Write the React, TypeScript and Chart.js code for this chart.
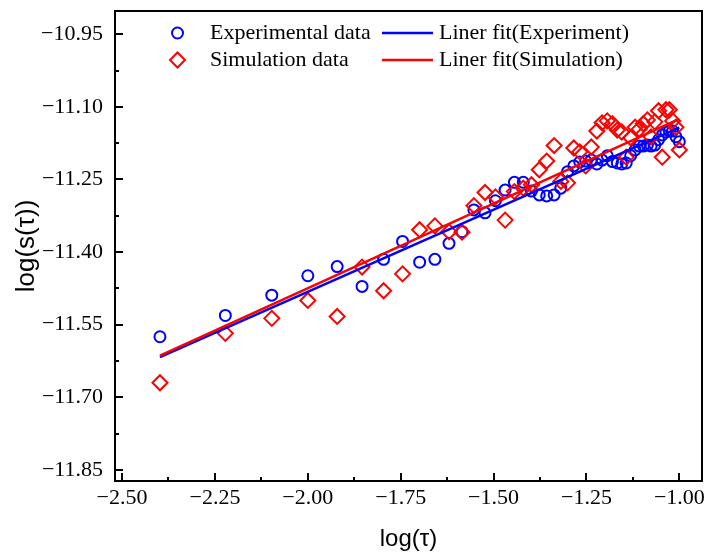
import React, { useEffect, useRef } from 'react';
import { Chart, registerables } from 'chart.js';

Chart.register(...registerables);

// log(tau) values shared by both series
const logTau = [
  -2.398, -2.222, -2.097, -2.0, -1.921, -1.854, -1.796, -1.745, -1.699, -1.658,
  -1.62, -1.585, -1.553, -1.523, -1.495, -1.469, -1.444, -1.42, -1.398, -1.377,
  -1.357, -1.337, -1.319, -1.301, -1.284, -1.268, -1.252, -1.237, -1.222, -1.208,
  -1.194, -1.18, -1.167, -1.155, -1.143, -1.131, -1.119, -1.108, -1.097, -1.086,
  -1.076, -1.066, -1.056, -1.046, -1.036, -1.027, -1.018, -1.009, -1.0,
];

const experimentalY = [
  -11.575, -11.531, -11.489, -11.449, -11.43, -11.471, -11.415, -11.378, -11.421, -11.415,
  -11.382, -11.358, -11.313, -11.319, -11.294, -11.272, -11.256, -11.256, -11.274, -11.282,
  -11.284, -11.282, -11.268, -11.234, -11.222, -11.214, -11.212, -11.21, -11.218, -11.21,
  -11.201, -11.213, -11.216, -11.218, -11.216, -11.201, -11.189, -11.181, -11.181, -11.179,
  -11.181, -11.179, -11.168, -11.158, -11.152, -11.15, -11.15, -11.162, -11.172,
];

const simulationY = [
  -11.67, -11.568, -11.537, -11.5, -11.533, -11.431, -11.48, -11.445, -11.354, -11.346,
  -11.358, -11.359, -11.304, -11.277, -11.286, -11.334, -11.275, -11.268, -11.261, -11.23,
  -11.212, -11.18, -11.254, -11.257, -11.185, -11.193, -11.222, -11.183, -11.15, -11.133,
  -11.129, -11.135, -11.148, -11.152, -11.204, -11.164, -11.142, -11.146, -11.135, -11.127,
  -11.162, -11.131, -11.108, -11.204, -11.106, -11.106, -11.129, -11.142, -11.189,
];

const fitX = [-2.398, -1.0];
const expFitY = [-11.617, -11.143];
const simFitY = [-11.614, -11.125];

const xMajorTicks = [-2.5, -2.25, -2.0, -1.75, -1.5, -1.25, -1.0];
const xMinorTicks = [-2.375, -2.125, -1.875, -1.625, -1.375, -1.125];
const yMajorTicks = [-10.95, -11.1, -11.25, -11.4, -11.55, -11.7, -11.85];
const yMinorTicks = [-11.025, -11.175, -11.325, -11.475, -11.625, -11.775];

const legendLabels = ['Experimental data', 'Liner fit(Experiment)', 'Simulation data', 'Liner fit(Simulation)'];

const BLUE = '#0000ff';
const RED = '#ff0000';
const SERIF = '"Liberation Serif", "Times New Roman", serif';
const SANS = '"Liberation Sans", Arial, sans-serif';

const fmt = (v: number) => Number(v).toFixed(2).replace('-', '\u2212');

const framePlugin = {
  id: 'frameTicks',
  afterDraw(chart: any) {
    const { ctx, chartArea: a, scales } = chart;
    ctx.save();
    ctx.strokeStyle = '#000';
    ctx.lineWidth = 2;
    ctx.lineCap = 'butt';
    const xt = (vals: number[], len: number) =>
      vals.forEach((v) => {
        const p = Math.round(scales.x.getPixelForValue(v));
        ctx.beginPath();
        ctx.moveTo(p, a.bottom);
        ctx.lineTo(p, a.bottom - len);
        ctx.stroke();
      });
    const yt = (vals: number[], len: number) =>
      vals.forEach((v) => {
        const p = Math.round(scales.y.getPixelForValue(v));
        ctx.beginPath();
        ctx.moveTo(a.left, p);
        ctx.lineTo(a.left + len, p);
        ctx.stroke();
      });
    xt(xMajorTicks, 8);
    xt(xMinorTicks, 4);
    yt(yMajorTicks, 8);
    yt(yMinorTicks, 4);
    ctx.strokeRect(a.left, a.top, a.right - a.left, a.bottom - a.top);

    // legend
    ctx.font = `22px ${SERIF}`;
    ctx.fillStyle = '#000';
    ctx.textBaseline = 'middle';
    ctx.textAlign = 'left';
    const r1 = 33;
    const r2 = 60;
    ctx.lineWidth = 2;
    ctx.strokeStyle = BLUE;
    ctx.beginPath();
    ctx.arc(177.5, r1, 5.5, 0, Math.PI * 2);
    ctx.stroke();
    ctx.strokeStyle = RED;
    ctx.beginPath();
    ctx.moveTo(170, r2);
    ctx.lineTo(177.5, r2 - 7.5);
    ctx.lineTo(185, r2);
    ctx.lineTo(177.5, r2 + 7.5);
    ctx.closePath();
    ctx.stroke();
    ctx.lineWidth = 2.5;
    ctx.strokeStyle = BLUE;
    ctx.beginPath();
    ctx.moveTo(382, r1);
    ctx.lineTo(433, r1);
    ctx.stroke();
    ctx.strokeStyle = RED;
    ctx.beginPath();
    ctx.moveTo(382, r2);
    ctx.lineTo(433, r2);
    ctx.stroke();
    ctx.fillText(legendLabels[0], 210, r1);
    ctx.fillText(legendLabels[1], 439, r1);
    ctx.fillText(legendLabels[2], 210, r2);
    ctx.fillText(legendLabels[3], 439, r2);
    ctx.restore();
  },
};

export default function App() {
  const ref = useRef<HTMLCanvasElement | null>(null);
  useEffect(() => {
    if (!ref.current) return;
    const toPts = (xs: number[], ys: number[]) => xs.map((x, i) => ({ x, y: ys[i] }));
    const chart = new Chart(ref.current, {
      type: 'scatter',
      data: {
        datasets: [
          {
            label: legendLabels[3],
            data: toPts(fitX, simFitY),
            showLine: true,
            borderColor: RED,
            borderWidth: 2.5,
            pointRadius: 0,
            order: 0,
          },
          {
            label: legendLabels[1],
            data: toPts(fitX, expFitY),
            showLine: true,
            borderColor: BLUE,
            borderWidth: 2.5,
            pointRadius: 0,
            order: 1,
          },
          {
            label: legendLabels[2],
            data: toPts(logTau, simulationY),
            pointStyle: 'rectRot',
            pointRadius: 7.5,
            pointBorderWidth: 2,
            pointBorderColor: RED,
            pointBackgroundColor: 'rgba(0,0,0,0)',
            order: 2,
          },
          {
            label: legendLabels[0],
            data: toPts(logTau, experimentalY),
            pointStyle: 'circle',
            pointRadius: 5.5,
            pointBorderWidth: 2,
            pointBorderColor: BLUE,
            pointBackgroundColor: 'rgba(0,0,0,0)',
            order: 3,
          },
        ],
      },
      options: {
        responsive: false,
        animation: false,
        devicePixelRatio: 1,
        layout: { autoPadding: false, padding: { top: 11, right: 2, left: 0, bottom: 0 } },
        plugins: { legend: { display: false }, tooltip: { enabled: false } },
        scales: {
          x: {
            type: 'linear',
            min: -2.519,
            max: -0.939,
            afterFit: (s: any) => {
              s.height = 75;
              s.paddingLeft = 0;
              s.paddingRight = 0;
            },
            afterBuildTicks: (s: any) => {
              s.ticks = xMajorTicks.map((v) => ({ value: v }));
            },
            grid: { display: false, drawTicks: false },
            border: { display: false },
            ticks: {
              padding: 4,
              color: '#000',
              font: { family: SERIF, size: 22 },
              maxRotation: 0,
              autoSkip: false,
              callback: (v: any) => fmt(v),
            },
            title: {
              display: true,
              text: 'log(\u03c4)',
              color: '#000',
              font: { family: SANS, size: 24 },
              padding: { top: 0, bottom: 2 },
            },
          },
          y: {
            type: 'linear',
            min: -11.873,
            max: -10.902,
            afterFit: (s: any) => {
              s.width = 115;
              s.paddingTop = 0;
              s.paddingBottom = 0;
            },
            afterBuildTicks: (s: any) => {
              s.ticks = yMajorTicks.map((v) => ({ value: v }));
            },
            grid: { display: false, drawTicks: false },
            border: { display: false },
            ticks: {
              padding: 12,
              color: '#000',
              font: { family: SERIF, size: 22 },
              autoSkip: false,
              callback: (v: any) => fmt(v),
            },
            title: {
              display: true,
              text: 'log(s(\u03c4))',
              color: '#000',
              font: { family: SANS, size: 26 },
              padding: { top: 11, bottom: 0 },
            },
          },
        },
      },
      plugins: [framePlugin],
    });
    return () => chart.destroy();
  }, []);

  return (
    <div style={{ position: 'fixed', left: 0, top: 0, width: 704, height: 556, background: '#fff' }}>
      <canvas ref={ref} width={704} height={556} style={{ width: 704, height: 556, display: 'block' }} />
    </div>
  );
}
